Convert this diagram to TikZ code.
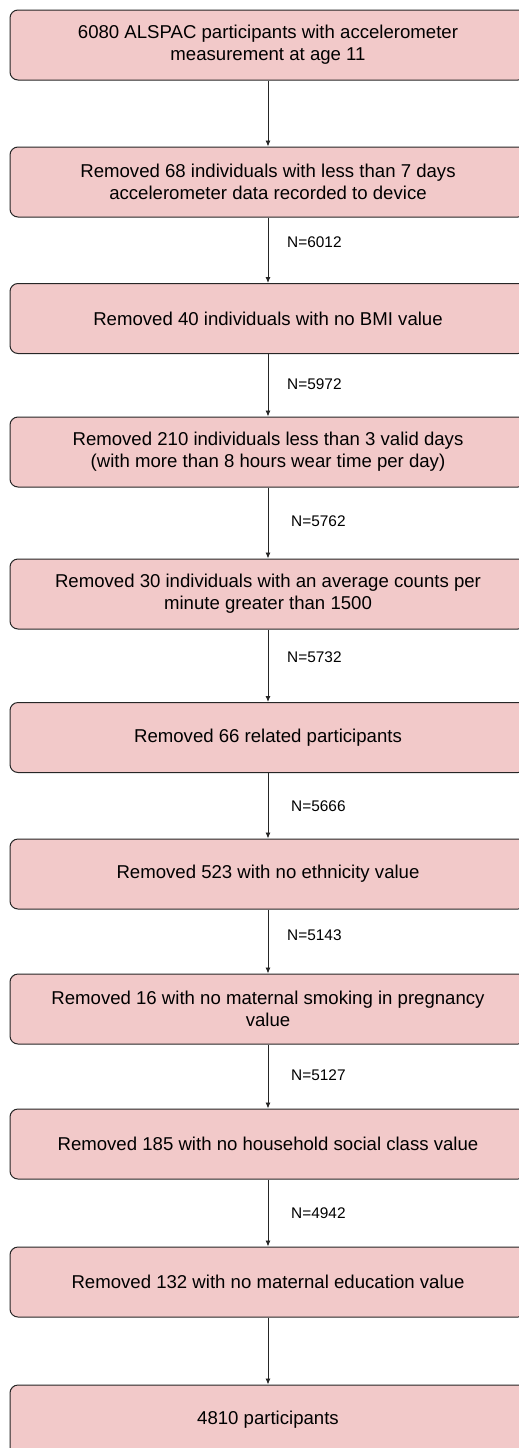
\documentclass[tikz,border=0pt]{standalone}
\usepackage{fontspec}
\setmainfont{Liberation Sans}
\usetikzlibrary{arrows.meta}
\definecolor{boxpink}{HTML}{F2C9C9}
\tikzset{stage/.style = {draw=black!85, line width=1pt, fill=boxpink, rounded corners=8pt, minimum width=516pt, minimum height=70pt, align=center, font=\fontsize{18.6}{22.3}\selectfont}}
\tikzset{count/.style = {anchor=west, inner sep=0pt, font=\fontsize{15.4}{18}\selectfont}}
\tikzset{flow/.style = {-{Latex[length=6pt, width=5pt]}, line width=0.9pt, draw=black!85}}

\begin{document}
\begin{tikzpicture}[x=1pt, y=-1pt]
\useasboundingbox (0,0) rectangle (519,1448);
\node [stage] (start) at (268,45) {6080 ALSPAC participants with accelerometer\\measurement at age 11};
\node [stage] (days) at (268,182) {Removed 68 individuals with less than 7 days\\accelerometer data recorded to device};
\node [stage] (bmi) at (268,318.5) {Removed 40 individuals with no BMI value};
\node [stage] (valid) at (268,452) {Removed 210 individuals less than 3 valid days\\(with more than 8 hours wear time per day)};
\node [stage] (cpm) at (268,594) {Removed 30 individuals with an average counts per\\minute greater than 1500};
\node [stage] (related) at (268,737.5) {Removed 66 related participants};
\node [stage] (ethnic) at (268,874) {Removed 523 with no ethnicity value};
\node [stage] (smoke) at (268,1009) {Removed 16 with no maternal smoking in pregnancy\\value};
\node [stage] (social) at (268,1144) {Removed 185 with no household social class value};
\node [stage] (educ) at (268,1282) {Removed 132 with no maternal education value};
\node [stage] (final) at (268,1420) {4810 participants};
\draw [flow] (start) -- (days);
\draw [flow] (days) -- (bmi);
\draw [flow] (bmi) -- (valid);
\draw [flow] (valid) -- (cpm);
\draw [flow] (cpm) -- (related);
\draw [flow] (related) -- (ethnic);
\draw [flow] (ethnic) -- (smoke);
\draw [flow] (smoke) -- (social);
\draw [flow] (social) -- (educ);
\draw [flow] (educ) -- (final);
\node [count] (n1) at (287,242) {N=6012};
\node [count] (n2) at (287,384) {N=5972};
\node [count] (n3) at (291,521) {N=5762};
\node [count] (n4) at (287,657) {N=5732};
\node [count] (n5) at (291,806) {N=5666};
\node [count] (n6) at (287,935) {N=5143};
\node [count] (n7) at (291,1075) {N=5127};
\node [count] (n8) at (291,1213) {N=4942};
\end{tikzpicture}
\end{document}
